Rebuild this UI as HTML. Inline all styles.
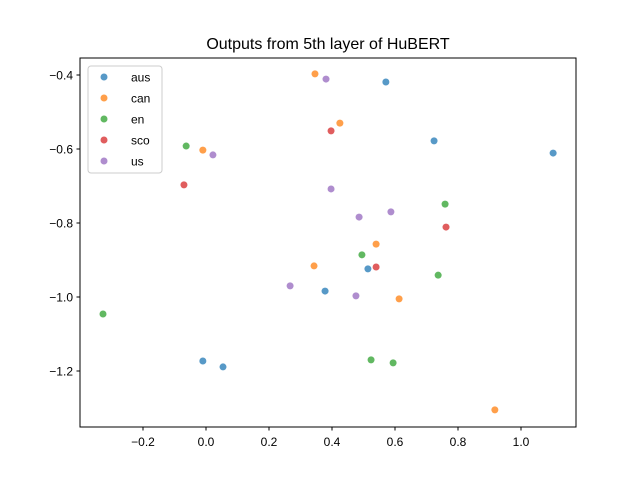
<!DOCTYPE html>
<html><head><meta charset="utf-8"><style>
body{margin:0;background:#fff;}
svg{display:block;font-family:"Liberation Sans","DejaVu Sans",sans-serif;}
</style></head><body>
<svg id="chart" width="640" height="480">
<rect x="0" y="0" width="640" height="480" fill="#fff"/>
<text x="328" y="49" text-anchor="middle" font-size="16">Outputs from 5th layer of HuBERT</text>
<g id="marks"></g>
<rect x="80" y="58" width="496" height="369" fill="none" stroke="#000" stroke-width="1"/>
<g id="axes"></g>
<g id="legend"></g>
</svg>
<script>
const seriesNames=["aus","can","en","sco","us"];
const colors=["#1f77b4","#ff7f0e","#2ca02c","#d62728","#9467bd"];
const ausX=[0.571,0.724,1.102,0.514,0.378,-0.01,0.054];
const ausY=[-0.419,-0.578,-0.611,-0.924,-0.984,-1.173,-1.189];
const canX=[0.346,0.425,-0.01,0.540,0.343,0.613,0.917];
const canY=[-0.397,-0.530,-0.603,-0.857,-0.916,-1.005,-1.305];
const enX=[-0.063,0.759,0.495,0.737,-0.327,0.524,0.594];
const enY=[-0.592,-0.749,-0.886,-0.941,-1.046,-1.170,-1.178];
const scoX=[0.397,-0.070,0.762,0.540];
const scoY=[-0.551,-0.697,-0.811,-0.919];
const usX=[0.381,0.022,0.397,0.587,0.486,0.267,0.476];
const usY=[-0.411,-0.616,-0.708,-0.770,-0.784,-0.970,-0.997];
const xTicks=[-0.2,0.0,0.2,0.4,0.6,0.8,1.0];
const yTicks=[-0.4,-0.6,-0.8,-1.0,-1.2];
const NS="http://www.w3.org/2000/svg";
function sx(v){return 206+v*315;}
function sy(v){return 75+(-0.4-v)*370;}
const xs=[ausX,canX,enX,scoX,usX], ys=[ausY,canY,enY,scoY,usY];
const marks=document.getElementById('marks');
for(let s=0;s<5;s++){
  for(let i=0;i<xs[s].length;i++){
    const c=document.createElementNS(NS,'circle');
    c.setAttribute('cx',sx(xs[s][i]));c.setAttribute('cy',sy(ys[s][i]));
    c.setAttribute('r',3.5);c.setAttribute('fill',colors[s]);c.setAttribute('fill-opacity',0.75);
    
    
    marks.appendChild(c);
  }
}
const axes=document.getElementById('axes');
function fmt(v){return (v<0?'\u2212':'')+Math.abs(v).toFixed(1);}
xTicks.forEach(t=>{
  const x=sx(t);
  const l=document.createElementNS(NS,'line');
  l.setAttribute('x1',x);l.setAttribute('x2',x);l.setAttribute('y1',427);l.setAttribute('y2',430.5);l.setAttribute('stroke','#000');
  
  
  axes.appendChild(l);
  const tx=document.createElementNS(NS,'text');
  tx.setAttribute('x',x);tx.setAttribute('y',446);tx.setAttribute('text-anchor','middle');tx.setAttribute('font-size','12');
  tx.textContent=fmt(t);
  
  
  axes.appendChild(tx);
});
yTicks.forEach(t=>{
  const y=sy(t);
  const l=document.createElementNS(NS,'line');
  l.setAttribute('x1',76.5);l.setAttribute('x2',80);l.setAttribute('y1',y);l.setAttribute('y2',y);l.setAttribute('stroke','#000');
  
  
  axes.appendChild(l);
  const tx=document.createElementNS(NS,'text');
  tx.setAttribute('x',73);tx.setAttribute('y',y+4.5);tx.setAttribute('text-anchor','end');tx.setAttribute('font-size','12');
  tx.textContent=fmt(t);
  
  
  axes.appendChild(tx);
});
const lg=document.getElementById('legend');
const box=document.createElementNS(NS,'rect');
box.setAttribute('x',88);box.setAttribute('y',66);box.setAttribute('width',74);box.setAttribute('height',107);
box.setAttribute('rx',3);box.setAttribute('fill','#fff');box.setAttribute('fill-opacity',0.8);box.setAttribute('stroke','#ccc');


lg.appendChild(box);
seriesNames.forEach((n,i)=>{
  const y=77+i*21;
  const c=document.createElementNS(NS,'circle');
  c.setAttribute('cx',104);c.setAttribute('cy',y);c.setAttribute('r',3.5);c.setAttribute('fill',colors[i]);c.setAttribute('fill-opacity',0.75);
  
  
  lg.appendChild(c);
  const t=document.createElementNS(NS,'text');
  t.setAttribute('x',131);t.setAttribute('y',y+4.5);t.setAttribute('font-size','12');t.textContent=n;
  
  
  lg.appendChild(t);
});
</script>
</body></html>
